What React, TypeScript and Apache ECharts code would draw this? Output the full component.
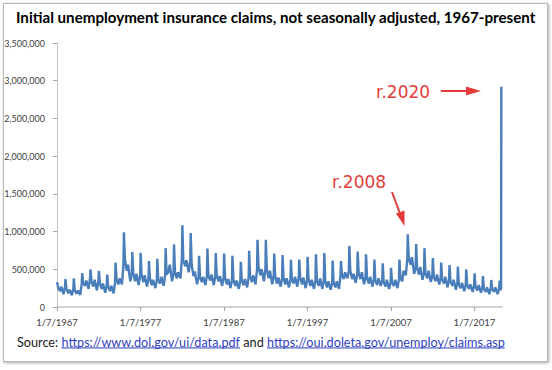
import React, { useEffect, useRef } from "react";
import * as echarts from "echarts";

// ---- data (values in thousands of claims) ----
const years = [
  1967, 1968, 1969, 1970, 1971, 1972, 1973, 1974, 1975, 1976,
  1977, 1978, 1979, 1980, 1981, 1982, 1983, 1984, 1985, 1986,
  1987, 1988, 1989, 1990, 1991, 1992, 1993, 1994, 1995, 1996,
  1997, 1998, 1999, 2000, 2001, 2002, 2003, 2004, 2005, 2006,
  2007, 2008, 2009, 2010, 2011, 2012, 2013, 2014, 2015, 2016,
  2017, 2018, 2019,
];
// early-January peak
const janPeak = [
  330, 370, 380, 450, 500, 480, 430, 590, 990, 730,
  720, 610, 640, 780, 830, 1085, 980, 680, 775, 715,
  710, 680, 600, 745, 890, 890, 710, 690, 625, 630,
  665, 700, 715, 615, 610, 810, 735, 700, 630, 580,
  520, 630, 965, 835, 780, 650, 588, 557, 535, 500,
  446, 411, 358,
];
// February / March level
const febLevel = [
  260, 240, 220, 320, 340, 320, 270, 370, 640, 450,
  430, 380, 360, 430, 470, 620, 560, 400, 420, 420,
  390, 360, 360, 410, 540, 500, 410, 390, 370, 390,
  370, 350, 340, 320, 430, 480, 450, 390, 350, 330,
  320, 380, 650, 520, 450, 400, 370, 340, 300, 290,
  270, 240, 240,
];
// April - June level
const springLevel = [
  210, 180, 175, 280, 270, 240, 210, 300, 480, 340,
  330, 290, 310, 470, 380, 540, 410, 330, 350, 340,
  300, 280, 290, 330, 420, 380, 310, 300, 310, 300,
  280, 280, 260, 260, 370, 370, 370, 310, 290, 270,
  280, 340, 560, 430, 380, 340, 310, 280, 250, 240,
  220, 200, 200,
];
// early-July bump
const julyBump = [
  270, 230, 220, 350, 360, 310, 280, 380, 560, 440,
  420, 360, 400, 560, 460, 620, 470, 400, 430, 410,
  370, 350, 370, 420, 500, 480, 390, 380, 400, 390,
  360, 380, 340, 340, 460, 440, 460, 400, 380, 360,
  360, 480, 660, 530, 480, 430, 400, 360, 320, 300,
  290, 260, 260,
];
// September - October low
const fallLow = [
  170, 155, 160, 240, 220, 190, 180, 300, 340, 290,
  270, 250, 280, 340, 380, 460, 300, 290, 290, 280,
  250, 240, 260, 300, 340, 300, 270, 260, 270, 250,
  240, 240, 230, 240, 380, 320, 300, 270, 280, 240,
  250, 420, 440, 360, 330, 300, 260, 230, 210, 200,
  190, 170, 170,
];
// late November - December level
const decLevel = [
  270, 250, 300, 380, 340, 300, 330, 560, 440, 420,
  380, 360, 430, 440, 640, 600, 400, 420, 410, 390,
  360, 350, 400, 500, 500, 420, 380, 360, 400, 360,
  350, 360, 320, 420, 480, 440, 400, 370, 360, 330,
  370, 640, 520, 460, 420, 390, 370, 330, 300, 290,
  270, 260, 250,
];
// position of each reading inside its year
const phase = [0.015, 0.13, 0.35, 0.51, 0.78, 0.96];
// 2020 weeks up to the week ending 3/21/2020
const tailYear = [2020.015, 2020.12, 2020.19, 2020.22];
const tailClaims = [350, 225, 250, 2920];

const startYear = 1967;
const xTickOffsets = [0, 10, 20, 30, 40, 50];
const yMax = 3500000;
const yStep = 500000;

const titleText =
  "Initial unemployment insurance claims, not seasonally adjusted, 1967-present";
const srcParts = [
  { t: "Source: ", link: false },
  { t: "https://www.dol.gov/ui/data.pdf", link: true },
  { t: " and ", link: false },
  { t: "https://oui.doleta.gov/unemploy/claims.asp", link: true },
];

function measure(text: string, font: string): number {
  const c = document.createElement("canvas").getContext("2d");
  if (!c) return text.length * 6;
  c.font = font;
  return c.measureText(text).width;
}

export default function App() {
  const ref = useRef<HTMLDivElement>(null);

  useEffect(() => {
    document.body.style.margin = "0";
    if (!ref.current) return;
    const chart = echarts.init(ref.current, undefined, { renderer: "svg" });

    const levels = [janPeak, febLevel, springLevel, julyBump, fallLow, decLevel];
    const data: number[][] = [];
    years.forEach((y, i) => {
      levels.forEach((arr, k) => {
        data.push([y - startYear + phase[k], arr[i] * 1000]);
      });
    });
    tailYear.forEach((y, i) => data.push([y - startYear, tailClaims[i] * 1000]));

    const FONT = "Lato";
    const titleW = 520;
    const tf = (14 * titleW) / measure(titleText, `bold 14px ${FONT}`);
    const srcW = 488;
    const full = srcParts.map((p) => p.t).join("");
    const sf = (13 * srcW) / measure(full, `13px ${FONT}`);
    const srcEls: any[] = [];
    let cx = 17;
    const sy = 342;
    srcParts.forEach((p) => {
      const w = measure(p.t, `${sf}px ${FONT}`);
      srcEls.push({
        type: "text",
        x: cx,
        y: sy,
        style: {
          text: p.t,
          fontFamily: FONT,
          fontSize: sf,
          fill: p.link ? "#2f3fbf" : "#1a1a1a",
          verticalAlign: "middle",
          align: "left",
        },
      });
      if (p.link) {
        srcEls.push({
          type: "line",
          shape: { x1: cx, y1: sy + sf * 0.47, x2: cx + w, y2: sy + sf * 0.47 },
          style: { stroke: "#2f3fbf", lineWidth: 1 },
        });
      }
      cx += w;
    });

    const red = "#e43b3b";
    const annoFont = "DejaVu Sans";

    chart.setOption({
      animation: false,
      grid: { left: 57, right: 50, top: 43, bottom: 63, containLabel: false },
      xAxis: {
        type: "value",
        min: 0,
        max: 53.3,
        interval: 10,
        splitLine: { show: false },
        axisLine: { show: true, lineStyle: { color: "#c4c4c4", width: 1.5 } },
        axisTick: {
          show: true,
          customValues: xTickOffsets,
          length: 4,
          lineStyle: { color: "#a6a6a6" },
        },
        axisLabel: {
          customValues: xTickOffsets,
          formatter: (v: number) => `1/7/${startYear + Math.round(v)}`,
          fontFamily: FONT,
          fontSize: 9.5,
          color: "#404040",
          margin: 10,
        },
      },
      yAxis: {
        type: "value",
        min: 0,
        max: yMax,
        interval: yStep,
        splitLine: { show: false },
        axisLine: { show: true, lineStyle: { color: "#c4c4c4", width: 1 } },
        axisTick: { show: true, length: 4, lineStyle: { color: "#a6a6a6" } },
        axisLabel: {
          formatter: (v: number) => v.toLocaleString("en-US"),
          fontFamily: FONT,
          fontSize: 9,
          color: "#404040",
          margin: 12,
        },
      },
      series: [
        {
          type: "line",
          data,
          showSymbol: false,
          symbol: "none",
          lineStyle: { color: "#4a7ebb", width: 2.4 },
          z: 3,
        },
      ],
      graphic: [
        {
          type: "text",
          x: 16,
          y: 17,
          style: {
            text: titleText,
            fontFamily: FONT,
            fontWeight: "bold",
            fontSize: tf,
            fill: "#000",
            verticalAlign: "middle",
          },
        },
        ...srcEls,
        {
          type: "text",
          x: 376,
          y: 92,
          style: {
            text: "r.2020",
            fontFamily: annoFont,
            fontSize: 17,
            fill: red,
            verticalAlign: "middle",
          },
        },
        {
          type: "line",
          shape: { x1: 441, y1: 91, x2: 468, y2: 91 },
          style: { stroke: red, lineWidth: 2 },
        },
        {
          type: "polygon",
          shape: { points: [[481, 91], [466, 86.5], [466, 95.5]] },
          style: { fill: red },
        },
        {
          type: "text",
          x: 332,
          y: 182,
          style: {
            text: "r.2008",
            fontFamily: annoFont,
            fontSize: 17,
            fill: red,
            verticalAlign: "middle",
          },
        },
        {
          type: "line",
          shape: { x1: 392, y1: 192, x2: 400.5, y2: 215 },
          style: { stroke: red, lineWidth: 2 },
        },
        {
          type: "polygon",
          shape: { points: [[404.5, 226], [396, 213.5], [404.5, 210.5]] },
          style: { fill: red },
        },
      ],
    });
    return () => chart.dispose();
  }, []);

  return (
    <div style={{ position: "absolute", left: 0, top: 0, width: 552, height: 370, background: "#fff" }}>
      <div
        style={{
          position: "absolute",
          left: 3,
          top: 3,
          width: 543,
          height: 357,
          border: "1px solid #b8b8b8",
          boxShadow: "1px 1px 3px rgba(0,0,0,0.35)",
          background: "#fff",
        }}
      />
      <div ref={ref} style={{ position: "absolute", left: 0, top: 0, width: 552, height: 370 }} />
    </div>
  );
}
